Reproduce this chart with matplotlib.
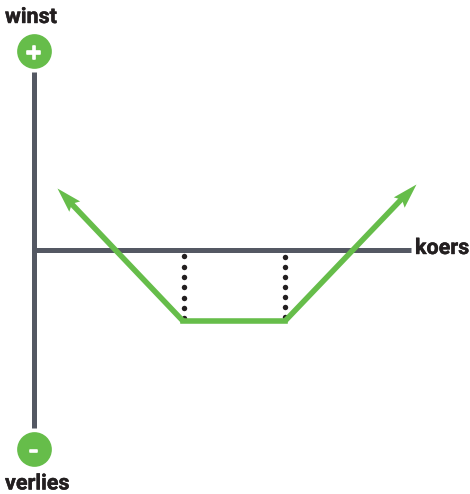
import matplotlib
matplotlib.use('Agg')
import matplotlib.pyplot as plt
import matplotlib.patheffects as pe
from matplotlib.markers import MarkerStyle
from matplotlib.path import Path
from matplotlib.transforms import Affine2D
import numpy as np

plt.rcParams['font.family'] = ['Roboto', 'DejaVu Sans']

# payoff line (koers, winst/verlies)
koers = [22.5, 149, 251, 382]
resultaat = [62, -71, -71, 66]

# dots going up from the two breakpoints to the axis
dots_x = [150, 250.5]
dots_links_y = [-6, -16.5, -27, -37, -47.5, -58, -68]
dots_rechts_y = [-7, -17, -27, -37, -47, -57, -67]

labels = ['winst', 'verlies', 'koers']

green = '#66BD4A'
grey = '#545863'
dark = '#231F20'

# arrow head pointing along +x with the tip in the origin, swept back barbs
head = Path([(0, 0), (-25, 7.5), (-21, 0), (-25, -7.5), (0, 0)],
            [Path.MOVETO, Path.LINETO, Path.LINETO, Path.LINETO, Path.CLOSEPOLY])


def draw_arrow(ax, x0, y0, x1, y1):
    # data units are pixels here, so the angle can be taken from the data
    angle = np.arctan2(y1 - y0, x1 - x0)
    end_x = x1 - 20 * np.cos(angle)
    end_y = y1 - 20 * np.sin(angle)
    ax.plot([x0, end_x], [y0, end_y], color=green, lw=4.0, solid_capstyle='butt', zorder=3)
    marker = MarkerStyle(head, transform=Affine2D().rotate(angle))
    ax.plot([x1], [y1], marker=marker, ms=36, color=green, mew=0, ls='none', zorder=3)


fig = plt.figure(figsize=(4.7, 4.94), dpi=100)
ax = fig.add_axes([0, 0, 1, 1])
ax.set_xlim(-34, 436)
ax.set_ylim(-244, 250)
ax.axis('off')

# axes
ax.plot([0, 0], [178, -178], color=grey, lw=3.6, solid_capstyle='butt', zorder=1)
ax.plot([0, 377], [0, 0], color=grey, lw=3.6, solid_capstyle='butt', zorder=1)

# dotted lines
ax.plot([dots_x[0]] * len(dots_links_y), dots_links_y, ls='none', marker='o', ms=3.9,
        color=dark, mew=0, zorder=2)
ax.plot([dots_x[1]] * len(dots_rechts_y), dots_rechts_y, ls='none', marker='o', ms=3.9,
        color=dark, mew=0, zorder=2)

# payoff
ax.plot(koers[1:3], resultaat[1:3], color=green, lw=4.0, solid_capstyle='projecting', zorder=3)
draw_arrow(ax, koers[1], resultaat[1], koers[0], resultaat[0])
draw_arrow(ax, koers[2], resultaat[2], koers[3], resultaat[3])

# plus and minus badges
ax.plot([0], [199], marker='o', ms=25, color=green, mew=0, zorder=4)
ax.plot([-0.5], [-199], marker='o', ms=25, color=green, mew=0, zorder=4)
stroke = [pe.withStroke(linewidth=1.2, foreground='white')]
ax.text(0, 199, '+', color='white', fontsize=15, fontweight='bold', ha='center',
        va='center_baseline', family='DejaVu Sans', path_effects=stroke, zorder=5)
ax.text(-0.5, -199, '-', color='white', fontsize=15, fontweight='bold', ha='center',
        va='center_baseline', family='DejaVu Sans', path_effects=stroke, zorder=5)

# labels
bold = [pe.withStroke(linewidth=0.3, foreground=dark)]
ax.text(-29, 233, labels[0], color=dark, fontsize=15.5, fontweight='bold', ha='left', va='center',
        path_effects=bold)
ax.text(-29, -233.5, labels[1], color=dark, fontsize=15.5, fontweight='bold', ha='left', va='center',
        path_effects=bold)
ax.text(381, 2, labels[2], color=dark, fontsize=15.5, fontweight='bold', ha='left', va='center',
        path_effects=bold)

fig.savefig('out.png', dpi=100)
